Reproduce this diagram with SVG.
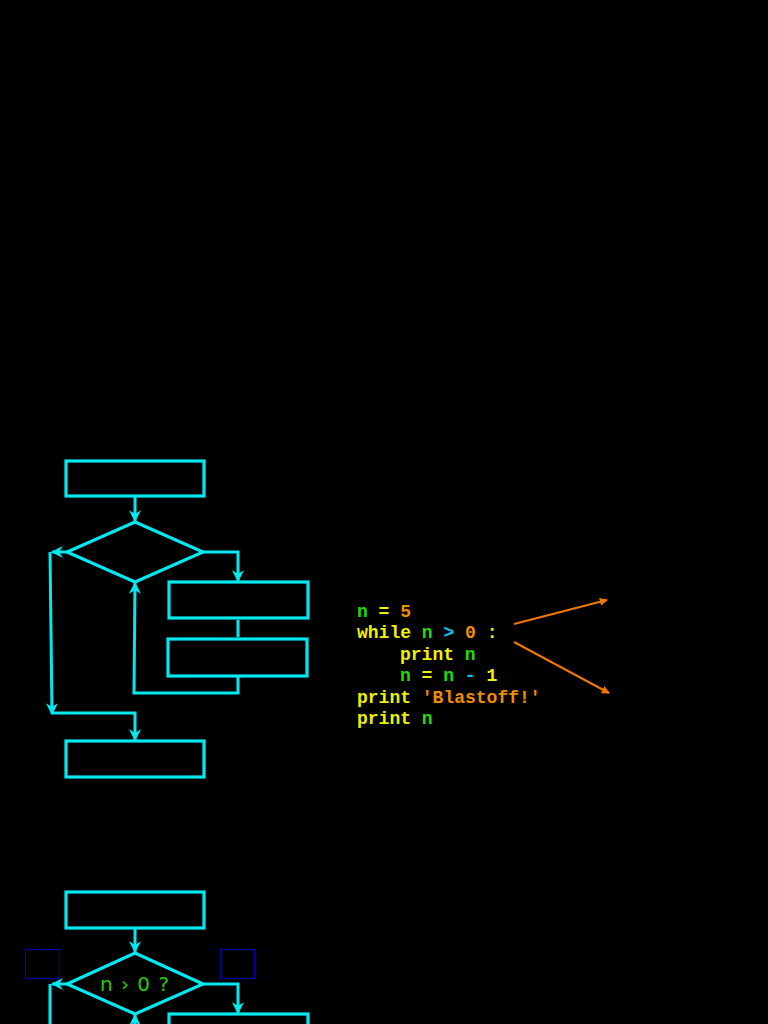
<svg xmlns="http://www.w3.org/2000/svg" width="768" height="1024" viewBox="0 0 768 1024">
<defs>
<marker id="ah" viewBox="0 0 10 10" refX="9" refY="5" markerWidth="4" markerHeight="4" orient="auto" markerUnits="strokeWidth">
<path d="M0,0 L10,5 L0,10 L3,5 z" fill="#00e8f0"/>
</marker>
<marker id="oh" viewBox="0 0 10 10" refX="9" refY="5" markerWidth="4" markerHeight="4" orient="auto" markerUnits="strokeWidth">
<path d="M0,0 L10,5 L0,10 z" fill="#f07800"/>
</marker>
<style>
.box{fill:none;stroke:#00e8f0;stroke-width:3.2}
.ln{fill:none;stroke:#00e8f0;stroke-width:3}
.arr{fill:none;stroke:#00e8f0;stroke-width:3;marker-end:url(#ah)}
.oa{fill:none;stroke:#f07800;stroke-width:2;marker-end:url(#oh)}
.code{font-family:"Liberation Mono","Courier New",monospace;font-weight:bold;font-size:18px}
.y{fill:#f0f000}.g{fill:#22dd00}.o{fill:#f08c00}.c{fill:#00ccee}
.blue{fill:none;stroke:#0000b0;stroke-width:1.2}
</style>
</defs>
<rect width="768" height="1024" fill="#000"/>
<g id="top-flow">
<g id="t-start"><rect class="box" x="66" y="461" width="138" height="35"/></g>
<g id="t-cond"><polygon class="box" points="135,522 203,552 135,582 67,552"/></g>
<g id="t-body1"><rect class="box" x="169" y="582" width="139" height="36"/></g>
<g id="t-body2"><rect class="box" x="168" y="639" width="139" height="37"/></g>
<g id="t-end"><rect class="box" x="66" y="741" width="138" height="36"/></g>
</g>
<g id="top-connectors">
<path class="arr" d="M135,496 V521"/>
<path class="arr" d="M67,552 H52"/>
<path class="arr" d="M50,552 L52,714"/>
<path class="arr" d="M52,713 H135 V740"/>
<path class="arr" d="M203,552 H238 V581"/>
<path class="ln" d="M238,620 V637"/>
<path class="arr" d="M238,677 V693 H134 L135,583"/>
</g>
<g id="code">
<text class="code" x="357" y="617"><tspan class="g">n</tspan><tspan class="y"> = </tspan><tspan class="o">5</tspan></text>
<text class="code" x="357" y="638"><tspan class="y">while </tspan><tspan class="g">n</tspan><tspan class="c"> &gt; </tspan><tspan class="o">0</tspan><tspan class="y"> :</tspan></text>
<text class="code" x="400" y="660"><tspan class="y">print </tspan><tspan class="g">n</tspan></text>
<text class="code" x="400" y="681"><tspan class="g">n</tspan><tspan class="y"> = </tspan><tspan class="g">n</tspan><tspan class="c"> - </tspan><tspan class="y">1</tspan></text>
<text class="code" x="357" y="703"><tspan class="y">print </tspan><tspan class="o">'Blastoff!'</tspan></text>
<text class="code" x="357" y="724"><tspan class="y">print </tspan><tspan class="g">n</tspan></text>
</g>
<g id="code-arrows">
<path class="oa" d="M514,624 L607,600"/>
<path class="oa" d="M514,642 L609,693"/>
</g>
<g id="bottom-flow">
<g id="b-start"><rect class="box" x="66" y="892" width="138" height="36"/></g>
<g id="b-cond"><polygon class="box" points="135,953 203,984 135,1014 67,984"/>
<text x="135" y="991" text-anchor="middle" font-family="DejaVu Sans, sans-serif" font-size="20" fill="#22cc00" letter-spacing="1">n › 0 ?</text></g>
<g id="b-body1"><rect class="box" x="169" y="1014" width="139" height="36"/></g>
<g id="b-lbl-left"><rect class="blue" x="25.5" y="949.5" width="34" height="29"/></g>
<g id="b-lbl-right"><rect class="blue" x="220.5" y="949.5" width="34" height="29"/></g>
</g>
<g id="bottom-connectors">
<path class="arr" d="M135,928 V952"/>
<path class="arr" d="M67,984 H52"/>
<path class="ln" d="M50,984 V1030"/>
<path class="arr" d="M203,984 H238 V1013"/>
<path class="arr" d="M135,1030 V1015"/>
</g>
</svg>
